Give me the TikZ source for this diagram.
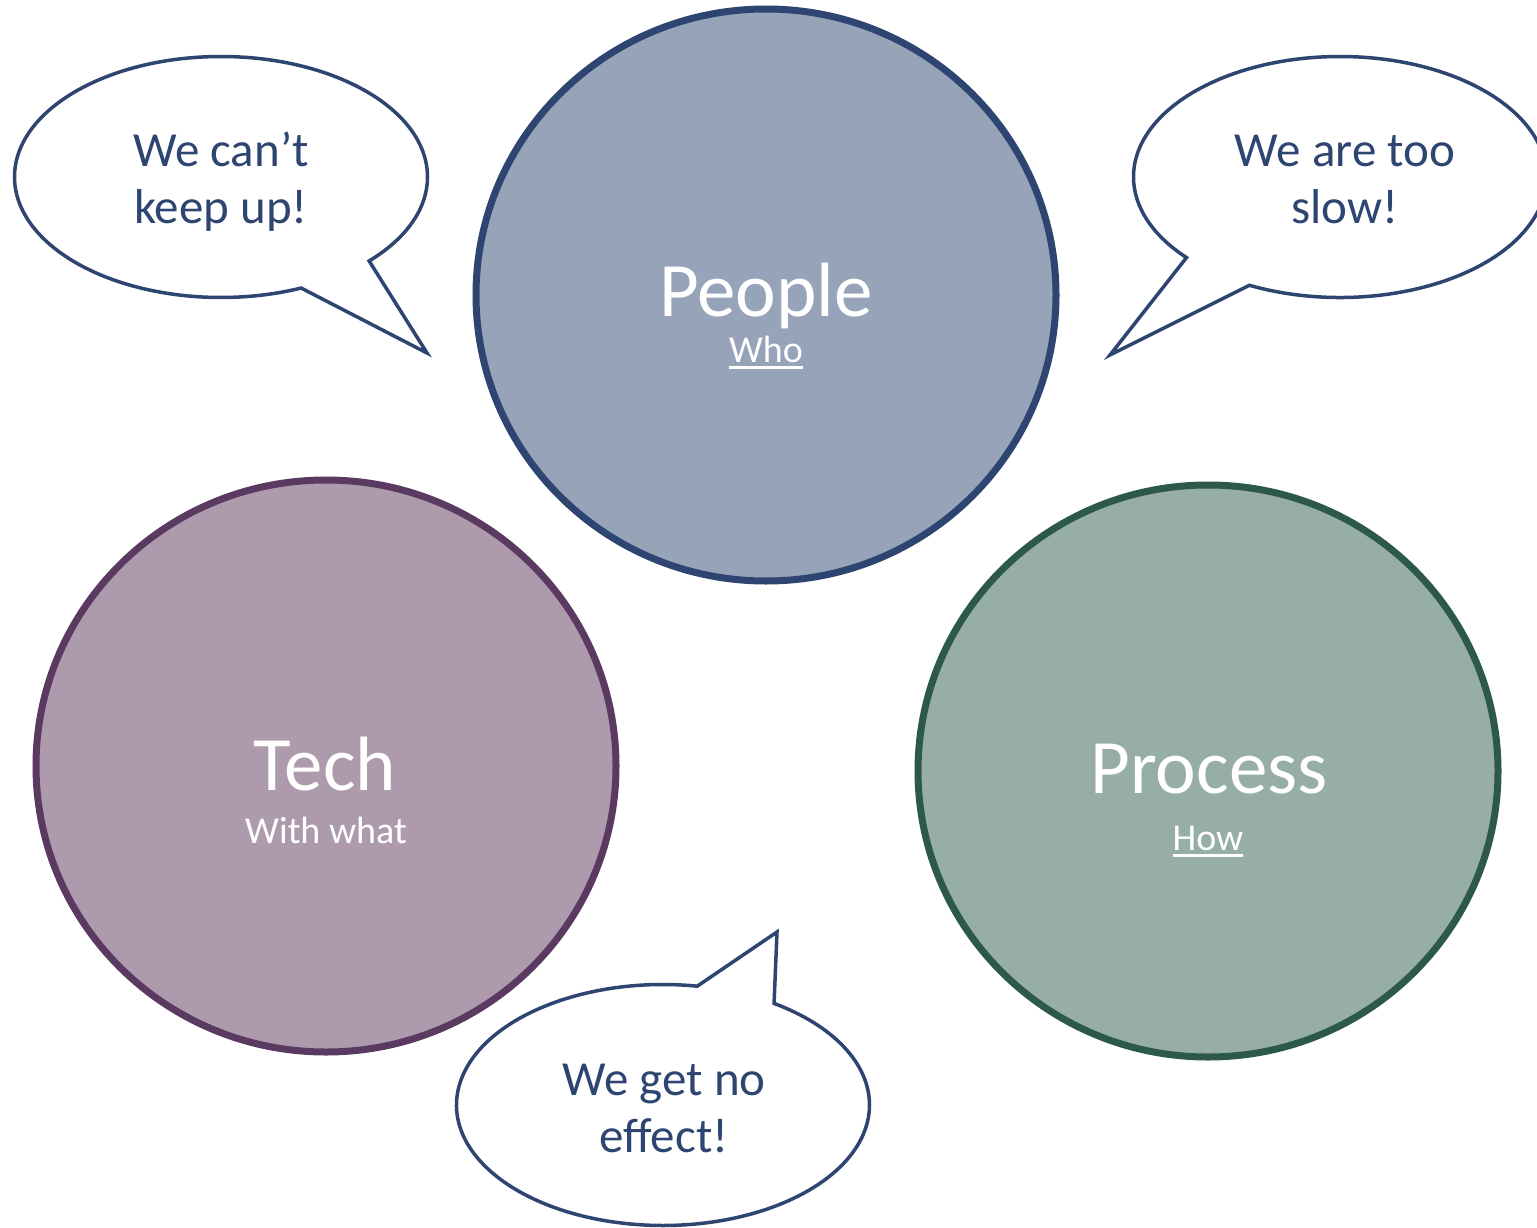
\documentclass[tikz,border=0pt]{standalone}
\usepackage{fontspec}
\setmainfont{Carlito}
\usetikzlibrary{shapes.geometric,shapes.callouts}
\definecolor{peoplefill}{HTML}{96A3B9}
\definecolor{peopleline}{HTML}{2E4571}
\definecolor{techfill}{HTML}{AD9BAD}
\definecolor{techline}{HTML}{5A3A61}
\definecolor{procfill}{HTML}{97AEA5}
\definecolor{procline}{HTML}{2D5A48}
\definecolor{bubline}{HTML}{2E4571}
\newcommand{\ulword}[1]{\vtop{\hbox{#1}\kern4pt\hrule height 2.5pt}}

\begin{document}
\begin{tikzpicture}[
        x=1pt, y=-1pt,
        every node/.style={align=center},
        topic/.style={ellipse, draw, line width=7pt, minimum width=580pt, minimum height=572pt, inner sep=0pt},
        bubble/.style={ellipse callout, draw=bubline, line width=3.5pt, fill=white, minimum width=413pt, minimum height=241pt, inner sep=0pt},
        toplabel/.style={text=white, font=\fontsize{77}{92}\selectfont, anchor=base, inner sep=0pt},
        sublabel/.style={text=white, font=\fontsize{38}{46}\selectfont, anchor=base, inner sep=0pt},
        saying/.style={text=bubline, font=\fontsize{49}{57}\selectfont, anchor=base, inner sep=0pt},
    ]
    \useasboundingbox (0,0) rectangle (1537,1228);
    % the three circles
    \node[topic, fill=peoplefill, draw=peopleline] (people) at (766,295) {};
    \node[toplabel] (peoplet) at (766,316) {People};
    \node[sublabel] (who) at (766,362) {\ulword{Who}};

    \node[topic, fill=techfill, draw=techline] (tech) at (326,766) {};
    \node[toplabel] (techt) at (325,790) {Tech};
    \node[sublabel] (withwhat) at (326,843) {With what};

    \node[topic, fill=procfill, draw=procline] (process) at (1208,771) {};
    \node[toplabel] (processt) at (1209,793) {Process};
    \node[sublabel] (how) at (1208,850) {\ulword{How}};

    % speech bubbles (text nodes sit on the baseline of the last line)
    \node[bubble, callout absolute pointer={(427,353)}, callout pointer arc=23] (cant) at (221,177) {};
    \node[saying] (cantt) at (221,223) {We can’t\\keep up!};

    \node[bubble, callout absolute pointer={(1110,355)}, callout pointer arc=22] (slow) at (1340,177) {};
    \node[saying] (slowt) at (1345,223) {We are too\\slow!};

    \node[bubble, callout absolute pointer={(777,932)}, callout pointer arc=23] (effect) at (663,1105) {};
    \node[saying] (effectt) at (664,1152) {We get no\\effect!};
\end{tikzpicture}
\end{document}
